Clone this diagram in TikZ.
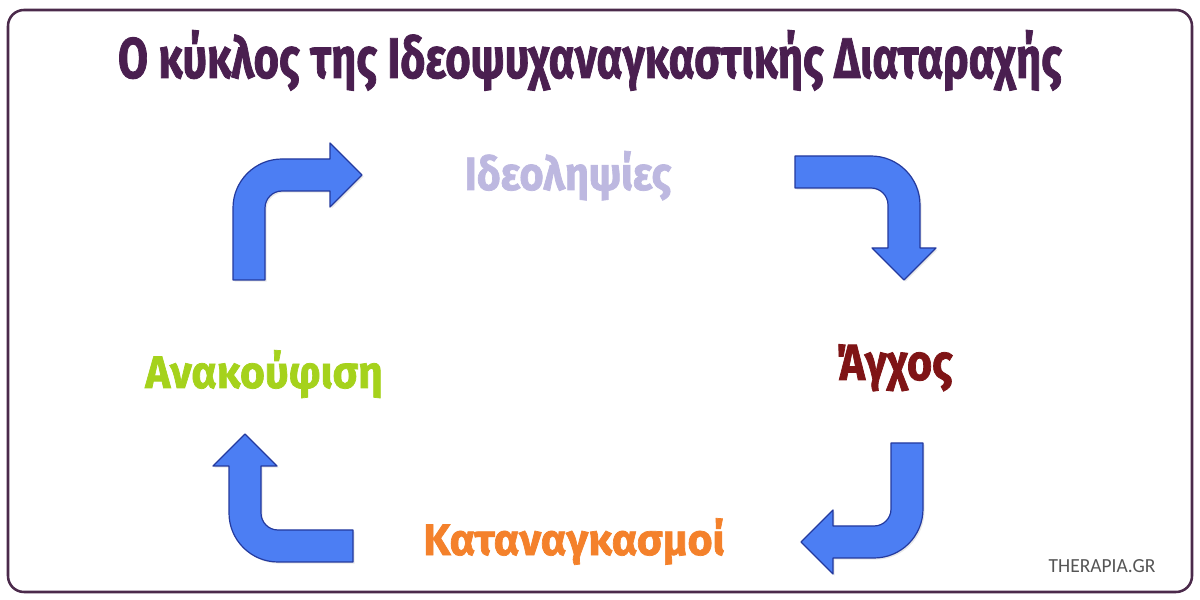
\documentclass[tikz,border=0pt]{standalone}
\usepackage{fontspec}
\usepackage{graphicx}
\setmainfont{Fira Sans}[BoldFeatures={FakeBold=1.6}]
\newfontfamily\wmfont{Carlito}
\usetikzlibrary{shadows}
\definecolor{framecol}{HTML}{4B2A4B}
\definecolor{titlecol}{HTML}{4A1F50}
\definecolor{ideocol}{HTML}{BDB8E0}
\definecolor{anxcol}{HTML}{7F1416}
\definecolor{reliefcol}{HTML}{A5D21C}
\definecolor{compcol}{HTML}{F4812B}
\definecolor{wmcol}{HTML}{555555}
\definecolor{arrowblue}{HTML}{4C7EF3}
\definecolor{arrowedge}{HTML}{243A9E}
\tikzset{
  arrowshape/.style={fill=arrowblue, draw=arrowedge, line width=0.9pt, line join=round,
    drop shadow={opacity=0.18, shadow xshift=1.2pt, shadow yshift=-1.2pt}},
  lbl/.style={anchor=base, inner sep=0pt, font=\bfseries}
}
\newcommand\bentarrow[5]{%
  \begin{scope}[shift={(#1,#2)}, rotate=#3]
    \path[arrowshape] (-16,-#4) -- (-16,-33) arc[start angle=180,end angle=90,radius=49]
      -- (#5,16) -- (#5,32) -- ({#5+32},0) -- (#5,-32) -- (#5,-16) -- (33,-16)
      arc[start angle=90,end angle=180,radius=17] -- (16,-#4) -- cycle;
  \end{scope}}
\begin{document}
\begin{tikzpicture}[x=0.75pt,y=0.75pt]
\useasboundingbox (0,0) rectangle (1200,600);
\fill[white] (0,0) rectangle (1200,600);
\draw[framecol, line width=1.9pt, rounded corners=12pt] (8,8) rectangle (1192,590);

\node[lbl, text=titlecol] (title) at (590,522)
  {\resizebox{708pt}{\height}{\fontsize{43}{50}\selectfont Ο κύκλος της Ιδεοψυχαναγκαστικής Διαταραχής}};

\bentarrow{249}{425}{0}{105}{81}
\bentarrow{904}{428}{-90}{109}{76}
\bentarrow{907}{58}{180}{99}{74}
\bentarrow{245}{54}{90}{108}{80}

\node[lbl, text=ideocol] (ideo) at (568,410)
  {\resizebox{155pt}{\height}{\fontsize{35}{40}\selectfont Ιδεοληψίες}};
\node[lbl, text=anxcol] (anx) at (894,220)
  {\resizebox{88pt}{\height}{\fontsize{38}{44}\selectfont Άγχος}};
\node[lbl, text=reliefcol] (relief) at (264,212)
  {\resizebox{178pt}{\height}{\fontsize{34}{40}\selectfont Ανακούφιση}};
\node[lbl, text=compcol] (comp) at (574,45)
  {\resizebox{226pt}{\height}{\fontsize{33}{40}\selectfont Καταναγκασμοί}};
\node[anchor=base, inner sep=0pt, text=wmcol] (wm) at (1102,27)
  {\resizebox{80pt}{\height}{\wmfont\fontsize{15}{18}\selectfont THERAPIA.GR}};
\end{tikzpicture}
\end{document}
